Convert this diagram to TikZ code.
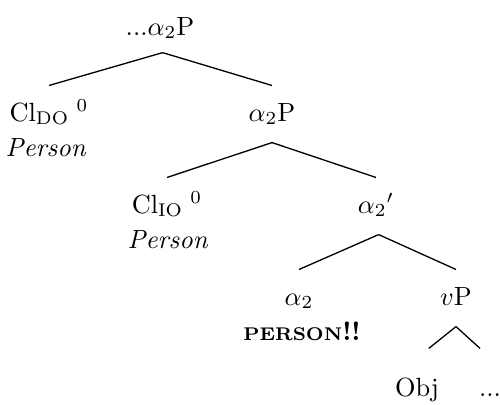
\documentclass[tikz,border=0pt]{standalone}
\usepackage{amsmath,amssymb}
\usepackage{tikz}

\begin{document}
\begin{tikzpicture}[x=0.38pt,y=-0.38pt,
  cat/.style={anchor=base, inner sep=0pt, text height=10pt, text depth=5pt},
  feat/.style={anchor=base, inner sep=0pt},
  branch/.style={line width=0.5pt}]
\useasboundingbox (0,0) rectangle (500,404);
\node[cat] (root) at (160,35) {...$\alpha_2$P};
\node[cat] (cldo) at (49,121) {$\mathrm{Cl}_{\mathrm{DO}}\;{}^{0}$};
\node[feat] (cldoft) at (46,156) {\textit{Person}};
\node[cat] (atwop) at (272,121) {$\alpha_2$P};
\node[cat] (clio) at (167,213) {$\mathrm{Cl}_{\mathrm{IO}}\;{}^{0}$};
\node[feat] (clioft) at (168,248) {\textit{Person}};
\node[cat] (atwobar) at (376,213) {$\alpha_2{}'$};
\node[cat] (atwo) at (299,305) {$\alpha_2$};
\node[feat] (atwoft) at (302,340) {\textbf{{\scriptsize PERSON}!!}};
\node[cat] (vp) at (456,305) {$v$P};
\node[cat] (obj) at (417,396) {Obj};
\node[cat] (dots) at (490,396) {...};
% branches
\draw[branch] ([xshift=1pt,yshift=-1.5pt]root.south) -- ([yshift=3.3pt]cldo.north);
\draw[branch] ([xshift=1pt,yshift=-1.5pt]root.south) -- ([yshift=3.3pt]atwop.north);
\draw[branch] ([yshift=-3pt]atwop.south) -- ([yshift=3.3pt]clio.north);
\draw[branch] ([yshift=-3pt]atwop.south) -- ([yshift=3.3pt]atwobar.north);
\draw[branch] ([xshift=1pt,yshift=-3pt]atwobar.south) -- ([yshift=3.3pt]atwo.north);
\draw[branch] ([xshift=1pt,yshift=-3pt]atwobar.south) -- ([yshift=3.3pt]vp.north);
\draw[branch] ([yshift=-3pt]vp.south) -- ([xshift=4.5pt,yshift=7.9pt]obj.north);
\draw[branch] ([yshift=-3pt]vp.south) -- ([xshift=-3.8pt,yshift=7.9pt]dots.north);
\end{tikzpicture}
\end{document}
